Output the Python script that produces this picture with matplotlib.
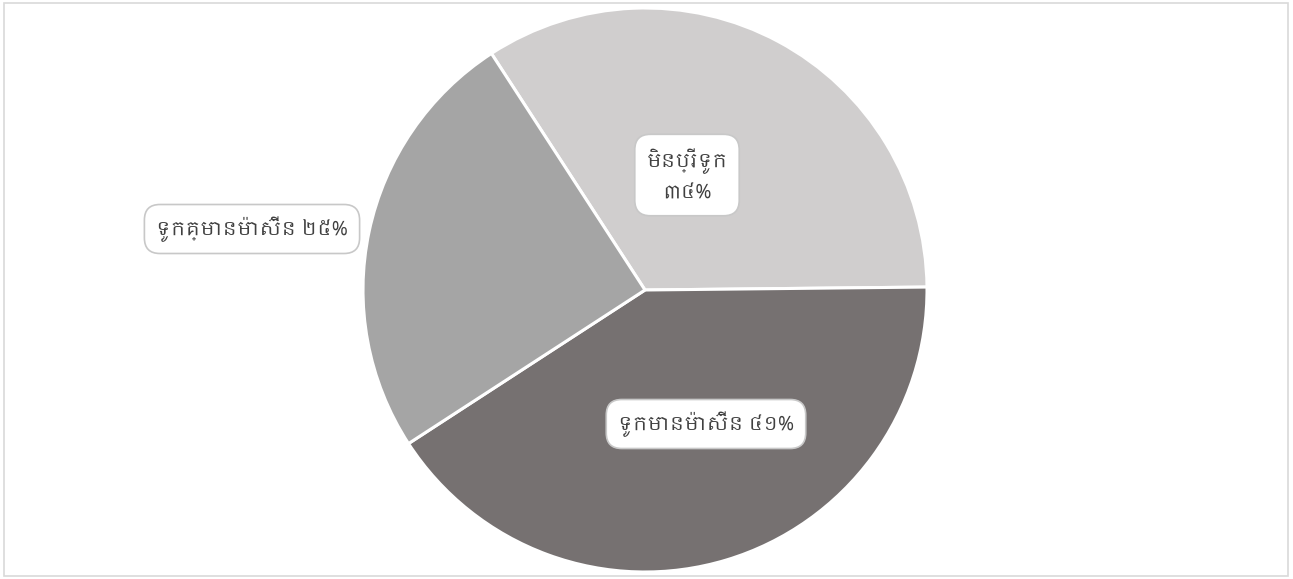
import matplotlib
matplotlib.use("Agg")
import matplotlib.pyplot as plt
from matplotlib import font_manager
from matplotlib.patches import Rectangle

# ─── Data ─────────────────────────────────────────────────────────────────────
labels = ["មិនប្រើទូក", "ទូកមានម៉ាស៊ីន", "ទូកគ្មានម៉ាស៊ីន"]
pct_text = ["៣៤%", "៤១%", "២៥%"]
values = [34, 41, 25]
colors = ["#D0CECE", "#767171", "#A5A5A5"]

# use a Khmer font if one happens to be installed
installed = {f.name for f in font_manager.fontManager.ttflist}
khmer = [n for n in sorted(installed) if "Khmer" in n]
families = khmer + ["Noto Sans", "DejaVu Sans"]
plt.rcParams["font.family"] = families

fig = plt.figure(figsize=(12.93, 5.79), dpi=100)
fig.patches.append(Rectangle((4 / 1293, 3 / 579), 1284 / 1293, 573 / 579,
                             transform=fig.transFigure, fill=False,
                             edgecolor="#D9D9D9", lw=1.2))

# pie centred at (645, 290) px, radius ~282 px
r_px = 282
ax = fig.add_axes([(645 - r_px) / 1293, (579 - 290 - r_px) / 579,
                   2 * r_px / 1293, 2 * r_px / 579])
wedges, _ = ax.pie(values, colors=colors, startangle=123, counterclock=False,
                   radius=1.0,
                   wedgeprops=dict(edgecolor="white", linewidth=2.2))
ax.set_xlim(-1, 1)
ax.set_ylim(-1, 1)
ax.set_aspect("equal")
ax.axis("off")

box = dict(boxstyle="round,pad=0.6,rounding_size=0.8", fc="white",
           ec="#C8C8C8", lw=1.2)
txt_kw = dict(ha="center", va="center", fontsize=14, color="#404040",
              transform=fig.transFigure, linespacing=1.7)

def px(x, y):
    return x / 1293, 1 - y / 579

fig.text(*px(687, 176), f"{labels[0]}\n{pct_text[0]}", bbox=box, **txt_kw)
fig.text(*px(706, 424), f"{labels[1]} {pct_text[1]}", bbox=box, **txt_kw)
fig.text(*px(252, 229), f"{labels[2]} {pct_text[2]}", bbox=box, **txt_kw)

fig.savefig("out.png", dpi=100)
